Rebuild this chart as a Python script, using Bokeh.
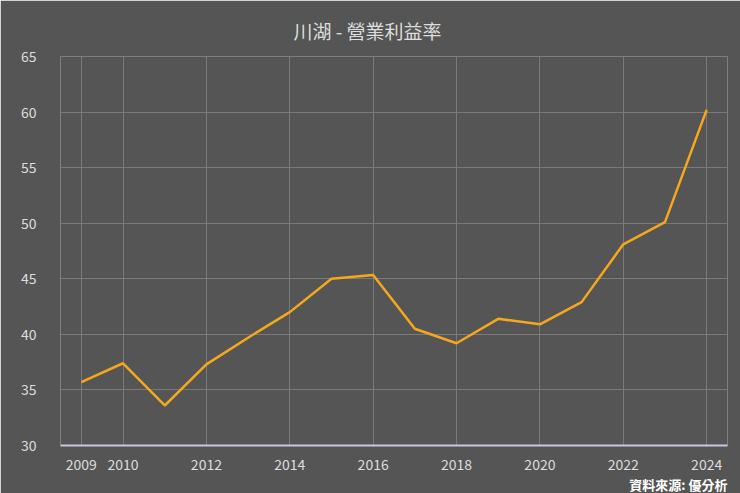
from bokeh.plotting import figure
from bokeh.models import FixedTicker, Range1d, Title
from bokeh.embed import file_html
from bokeh.resources import INLINE

years = [2009, 2010, 2011, 2012, 2013, 2014, 2015, 2016, 2017, 2018, 2019, 2020, 2021, 2022, 2023, 2024]
margin = [35.7, 37.4, 33.6, 37.3, 39.7, 42.0, 45.0, 45.35, 40.5, 39.2, 41.4, 40.9, 42.9, 48.1, 50.1, 60.2]
x_ticks = [2009, 2010, 2012, 2014, 2016, 2018, 2020, 2022, 2024]
y_ticks = [30, 35, 40, 45, 50, 55, 60, 65]
title_text = "川湖 - 營業利益率"
source_text = "資料來源: 優分析"

BG = "#555555"
FONT = "Noto Sans CJK TC"

p = figure(width=740, height=493, output_backend="svg", toolbar_location=None,
           x_range=Range1d(2008.5, 2024.5), y_range=Range1d(30, 65),
           background_fill_color=BG, border_fill_color=BG,
           min_border_left=60, min_border_right=13, min_border_top=56, min_border_bottom=47)
p.outline_line_color = None

ttl = Title(text=title_text, align="left", offset=233, standoff=25, text_line_height=1.0,
            text_color="#dddddd", text_font=FONT, text_font_size="19px", text_font_style="normal")
p.title = ttl

p.line(years, margin, line_color="#f5a81c", line_width=2.5)

p.xaxis.ticker = FixedTicker(ticks=x_ticks)
p.yaxis.ticker = FixedTicker(ticks=y_ticks)
for ax in (p.xaxis[0], p.yaxis[0]):
    ax.major_tick_line_color = None
    ax.minor_tick_line_color = None
    ax.major_label_text_color = "#dddddd"
    ax.major_label_text_font = FONT
    ax.major_label_text_font_size = "14px"
p.yaxis.axis_line_color = None
p.yaxis.major_label_standoff = 18
p.xaxis.axis_line_color = "#c8c8e0"
p.xaxis.axis_line_width = 2
p.xaxis.major_label_standoff = 7

p.xgrid.grid_line_color = "#7a7a7a"
p.ygrid.grid_line_color = "#7a7a7a"

src = Title(text=source_text, align="right", text_color="#ffffff", standoff=0,
            text_font=FONT, text_font_size="13px", text_font_style="bold")
p.add_layout(src, "below")

open("out.html", "w").write(file_html(p, INLINE))
